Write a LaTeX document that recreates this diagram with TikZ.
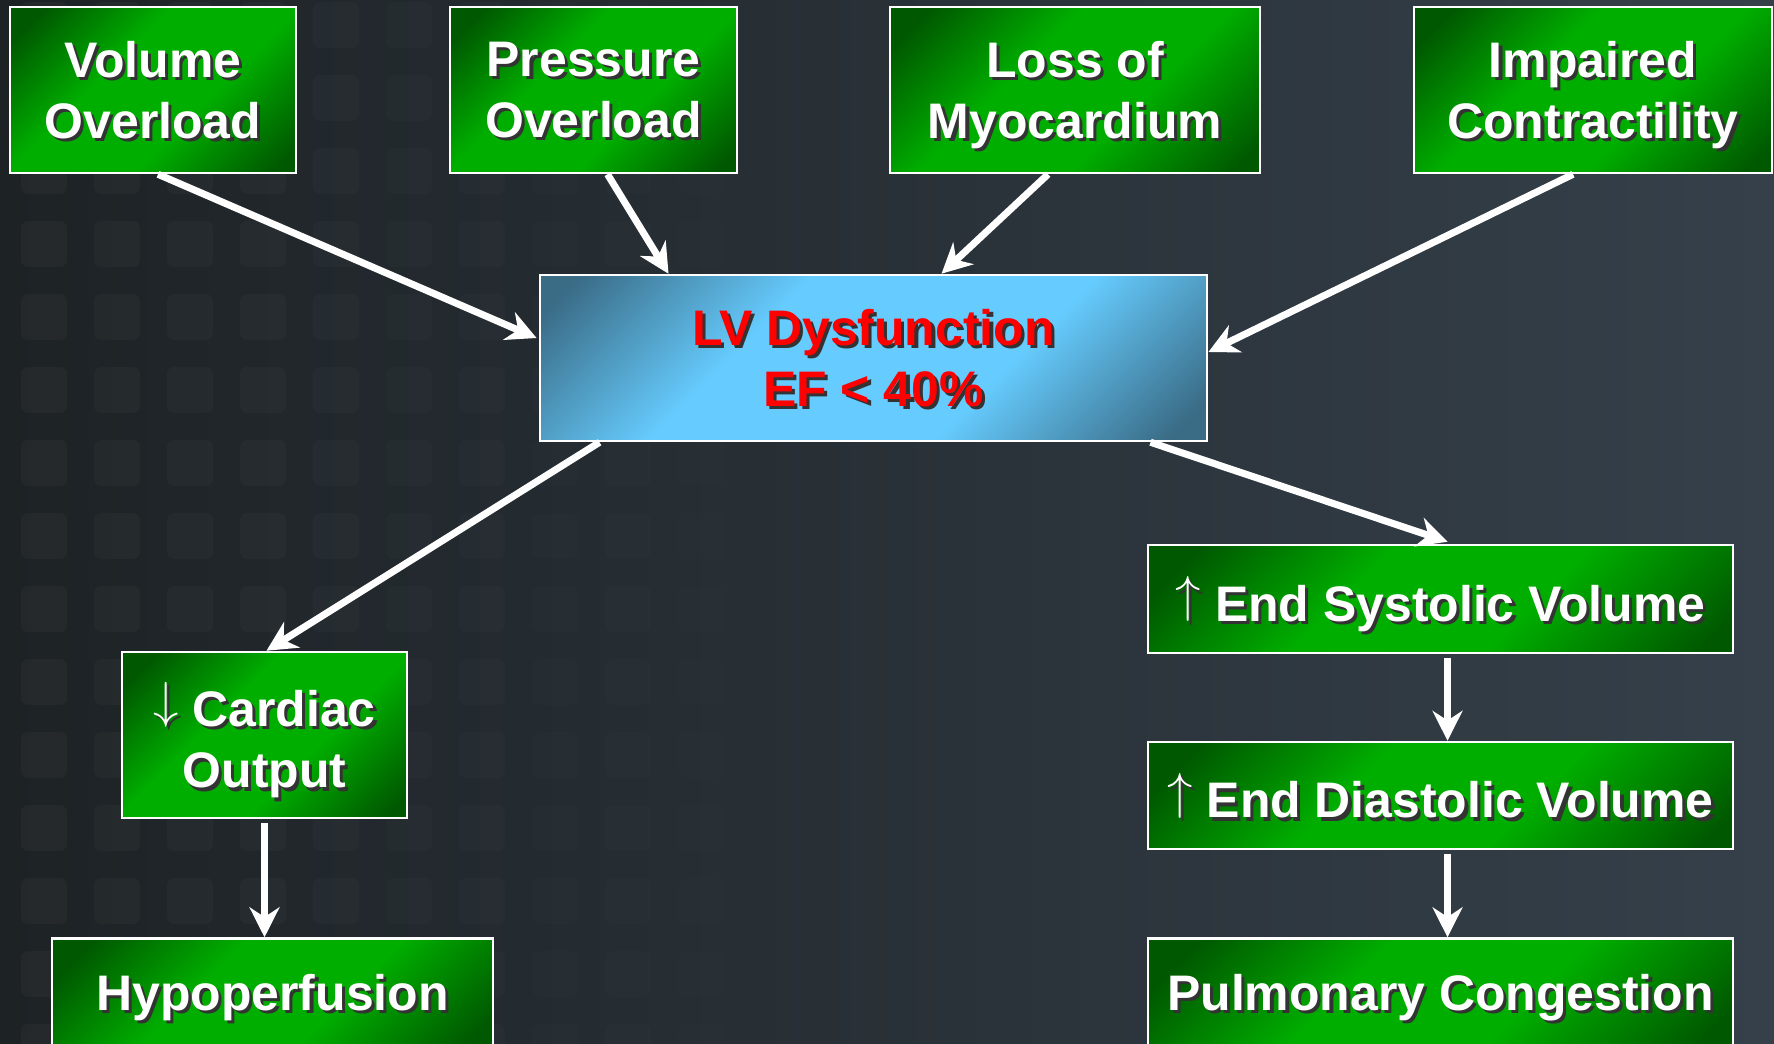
\documentclass[tikz,border=0pt]{standalone}
\usepackage{fontspec}
\setmainfont{Liberation Sans}
\usetikzlibrary{arrows.meta,calc}
\usepackage{xcolor}

\definecolor{bgleft}{HTML}{1D2225}
\definecolor{bgright}{HTML}{35404A}
\definecolor{gdark}{HTML}{005800}
\definecolor{gbright}{HTML}{00AE00}
\definecolor{bdark}{HTML}{3A6C86}
\definecolor{bbright}{HTML}{66CCFF}

\pgfdeclarehorizontalshading{greenglow}{100bp}{color(0bp)=(gdark); color(20bp)=(gdark); color(40bp)=(gbright); color(60bp)=(gbright); color(82bp)=(gdark); color(100bp)=(gdark)}
\pgfdeclarehorizontalshading{skyglow}{100bp}{color(0bp)=(bdark); color(18bp)=(bdark); color(38bp)=(bbright); color(62bp)=(bbright); color(82bp)=(bdark); color(100bp)=(bdark)}

% text with a small drop shadow, no depth so boxes centre alike
\newcommand{\shd}[1]{\raisebox{0pt}[\height][0pt]{\makebox[0pt][l]{\hspace{0.9pt}\raisebox{-0.9pt}{\color{black!80}#1}}#1}}
\newcommand{\up}{\raisebox{0.19em}{$\uparrow$}}
\newcommand{\down}{\raisebox{0.19em}{$\downarrow$}}

\begin{document}
\begin{tikzpicture}[
    x=0.01cm,y=-0.01cm,
    every node/.style={align=center,inner sep=0pt,font=\bfseries\fontsize{14.2}{17.4}\selectfont},
    cause/.style={draw=white,line width=0.7pt,shading=greenglow,shading angle=-45,text=white},
    core/.style={draw=white,line width=0.7pt,shading=skyglow,shading angle=-45,text=red},
    flow/.style={draw=white,line width=2pt,-{Stealth[length=8.5pt,width=8.5pt]}}
  ]
  \useasboundingbox (0,0) rectangle (1774,1043);
  \fill[left color=bgleft,right color=bgright] (0,0) rectangle (1774,1043);
  \foreach \i in {0,...,11}
    \foreach \j in {0,...,14} {
      \pgfmathsetmacro\op{0.03*(1-\i/12)}
      \fill[white,opacity=\op,rounded corners=2pt] (21+73*\i,2+73*\j) rectangle +(46,46);
    }

  \node[cause,minimum width=2.86cm,minimum height=1.66cm] (vol) at (153,90) {\shd{Volume}\\\shd{Overload}};
  \node[cause,minimum width=2.87cm,minimum height=1.66cm] (pres) at (593.5,90) {\shd{Pressure}\\\shd{Overload}};
  \node[cause,minimum width=3.70cm,minimum height=1.66cm] (loss) at (1075,90) {\shd{Loss of}\\\shd{Myocardium}};
  \node[cause,minimum width=3.58cm,minimum height=1.66cm] (imp) at (1593,90) {\shd{Impaired}\\\shd{Contractility}};
  \node[core,minimum width=6.67cm,minimum height=1.66cm] (lv) at (873.5,358) {\shd{LV Dysfunction}\\\shd{EF < 40\%}};
  \node[cause,minimum width=2.85cm,minimum height=1.66cm] (co) at (264.5,735) {\shd{\down{} Cardiac}\\\shd{Output}};
  \node[cause,minimum width=4.41cm,minimum height=1.07cm] (hypo) at (272.5,992) {\shd{Hypoperfusion}};
  \node[cause,minimum width=5.85cm,minimum height=1.08cm] (esv) at (1440.5,599) {\shd{\up{} End Systolic Volume}};
  \node[cause,minimum width=5.85cm,minimum height=1.07cm] (edv) at (1440.5,795.5) {\shd{\up{} End Diastolic Volume}};
  \node[cause,minimum width=5.85cm,minimum height=1.07cm] (pulm) at (1440.5,992) {\shd{Pulmonary Congestion}};

  \draw[flow] ($(vol.south)+(5,0)$) -- ($(lv.west)+(-2,-20)$);
  \draw[flow] ($(pres.south)+(14,0)$) -- ($(lv.north)+(-205,0)$);
  \draw[flow] ($(loss.south)+(-27,0)$) -- ($(lv.north)+(68,0)$);
  \draw[flow] ($(imp.south)+(-20,0)$) -- ($(lv.east)+(0,-6)$);
  \draw[flow] ($(lv.south)+(-274,0)$) -- ($(co.north)+(2,0)$);
  \draw[flow] ($(lv.south)+(277,0)$) -- ($(esv.north)+(7,-2)$);
  \draw[flow] ($(esv.south)+(7,4)$) -- ($(edv.north)+(7,0)$);
  \draw[flow] ($(edv.south)+(7,4)$) -- ($(pulm.north)+(7,0)$);
  \draw[flow] ($(co.south)+(0,4)$) -- (co.south |- hypo.north);
\end{tikzpicture}
\end{document}
